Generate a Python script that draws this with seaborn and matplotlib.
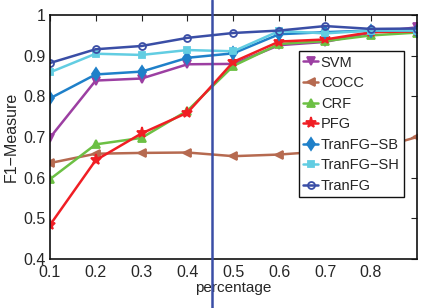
import pandas as pd
import matplotlib
matplotlib.use("Agg")
import matplotlib.pyplot as plt
import seaborn as sns
from matplotlib.lines import Line2D

# percentage of training data
percentage = [0.1, 0.2, 0.3, 0.4, 0.5, 0.6, 0.7, 0.8, 0.9]

svm = [0.698, 0.839, 0.844, 0.879, 0.880, 0.926, 0.934, 0.957, 0.970]
cocc = [0.636, 0.659, 0.661, 0.662, 0.653, 0.657, 0.665, 0.668, 0.700]
crf = [0.596, 0.682, 0.698, 0.765, 0.875, 0.929, 0.936, 0.950, 0.957]
pfg = [0.483, 0.643, 0.709, 0.760, 0.885, 0.935, 0.940, 0.958, 0.960]
tranfg_sb = [0.795, 0.854, 0.861, 0.895, 0.906, 0.953, 0.958, 0.962, 0.962]
tranfg_sh = [0.859, 0.905, 0.902, 0.914, 0.911, 0.961, 0.955, 0.962, 0.962]
tranfg = [0.882, 0.916, 0.924, 0.944, 0.956, 0.962, 0.973, 0.966, 0.967]

series_names = ["SVM", "COCC", "CRF", "PFG", "TranFG\u2212SB", "TranFG\u2212SH", "TranFG"]
series_values = [svm, cocc, crf, pfg, tranfg_sb, tranfg_sh, tranfg]
colors = ["#9c3fa2", "#b66a50", "#6cc044", "#f01e24", "#1f80c9", "#62cde2", "#3a4ea6"]
markers = ["v", "<", "^", "*", "d", "s", "o"]
marker_sizes = [6, 6, 6, 8, 6, 5, 5]
face_colors = colors[:-1] + ["none"]

sns.set_style("white")
plt.rcParams["font.family"] = ["Liberation Sans", "DejaVu Sans"]

fig = plt.figure(figsize=(4.22, 3.08), dpi=100)
ax = fig.add_axes([0.118, 0.159, 0.870, 0.792])

rows = []
for name, vals in zip(series_names, series_values):
    for p, v in zip(percentage, vals):
        rows.append({"percentage": p, "F1": v, "method": name})
df = pd.DataFrame(rows)

handles = []
for name, col, mk, ms, fc in zip(series_names, colors, markers, marker_sizes, face_colors):
    sub = df[df["method"] == name]
    sns.lineplot(data=sub, x="percentage", y="F1", ax=ax, color=col,
                 marker=mk, markersize=ms, markeredgecolor=col, markerfacecolor=fc,
                 markeredgewidth=1.3, linewidth=1.8, legend=False)
    handles.append(Line2D([0], [0], color=col, marker=mk, markersize=ms,
                          markeredgecolor=col, markerfacecolor=fc,
                          markeredgewidth=1.3, linewidth=1.8, label=name))

ax.set_xlim(0.1, 0.9)
ax.set_ylim(0.4, 1.0)
ax.set_xticks([0.1, 0.2, 0.3, 0.4, 0.5, 0.6, 0.7, 0.8])
ax.set_xticklabels(["0.1", "0.2", "0.3", "0.4", "0.5", "0.6", "0.7", "0.8"])
ax.set_yticks([0.4, 0.5, 0.6, 0.7, 0.8, 0.9, 1.0])
ax.set_yticklabels(["0.4", "0.5", "0.6", "0.7", "0.8", "0.9", "1"])
ax.tick_params(direction="in", length=4, width=0.8, labelsize=11.5,
               top=True, right=True, pad=3, color="#222222")
ax.tick_params(axis="x", pad=4)
for s in ax.spines.values():
    s.set_color("#111111")
    s.set_linewidth(1.2)

ax.set_xlabel("percentage", fontsize=11, labelpad=1)
ax.set_ylabel("F1\u2212Measure", fontsize=11.5, labelpad=3)

leg = ax.legend(handles=handles, loc="upper right", bbox_to_anchor=(0.965, 0.852),
                borderaxespad=0, fontsize=10.5, handlelength=1.0, handletextpad=0.2,
                labelspacing=0.45, borderpad=0.3, fancybox=False, framealpha=1)
leg.get_frame().set_edgecolor("#111111")
leg.get_frame().set_linewidth(1.0)

# stray vertical rule across the page
fig.add_artist(Line2D([212 / 422, 212 / 422], [0, 1], transform=fig.transFigure,
                      color="#3a4ea6", linewidth=1.8))

fig.savefig("out.png", dpi=100)
